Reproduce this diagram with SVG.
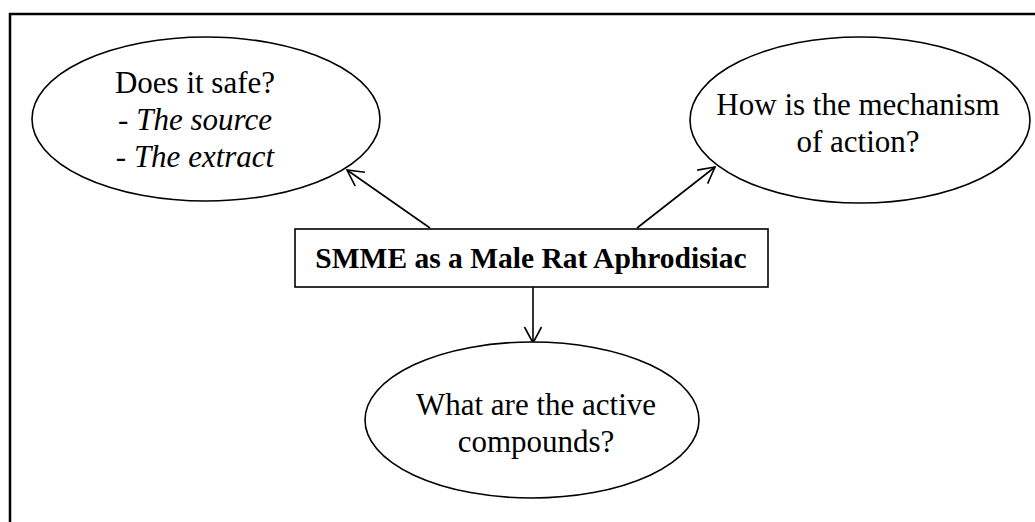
<svg xmlns="http://www.w3.org/2000/svg" width="1035" height="522" viewBox="0 0 1035 522">
<style>
.frame{fill:none;stroke:#000;stroke-width:2.5}
.shape{fill:#fff;stroke:#000;stroke-width:1.6}
.t{font-family:"Liberation Serif","Times New Roman",serif;font-size:31px;fill:#000;text-anchor:middle}
.b{font-weight:bold;font-size:29.5px}
.i{font-style:italic}
.edge{fill:none;stroke:#000;stroke-width:1.6}
</style>
<defs>
<marker id="arr" viewBox="0 0 18 20" refX="17" refY="10" markerWidth="18" markerHeight="20" markerUnits="userSpaceOnUse" orient="auto">
<path d="M1,1.5 L17,10 L1,18.5" fill="none" stroke="#000" stroke-width="1.6"/>
</marker>
</defs>
<rect class="frame" x="10" y="14" width="1040" height="530"/>
<g id="connectors">
<line class="edge" x1="430" y1="228" x2="347" y2="170" marker-end="url(#arr)"/>
<line class="edge" x1="637" y1="228" x2="715" y2="167" marker-end="url(#arr)"/>
<line class="edge" x1="533" y1="287" x2="533" y2="343" marker-end="url(#arr)"/>
</g>
<g id="center">
<rect class="shape" x="295" y="229" width="473" height="58"/>
<text class="t b" x="531" y="268">SMME as a Male Rat Aphrodisiac</text>
</g>
<g id="safe">
<ellipse class="shape" cx="206" cy="119" rx="174" ry="82"/>
<text class="t" x="195" y="93">Does it safe?</text>
<text class="t" x="195" y="130">- <tspan class="i">The source</tspan></text>
<text class="t" x="195" y="167">- <tspan class="i">The extract</tspan></text>
</g>
<g id="mechanism">
<ellipse class="shape" cx="860" cy="120" rx="170" ry="83"/>
<text class="t" x="858" y="115">How is the mechanism</text>
<text class="t" x="858" y="152">of action?</text>
</g>
<g id="compounds">
<ellipse class="shape" cx="532" cy="420" rx="167" ry="78"/>
<text class="t" x="536" y="415">What are the active</text>
<text class="t" x="536" y="452">compounds?</text>
</g>
</svg>
